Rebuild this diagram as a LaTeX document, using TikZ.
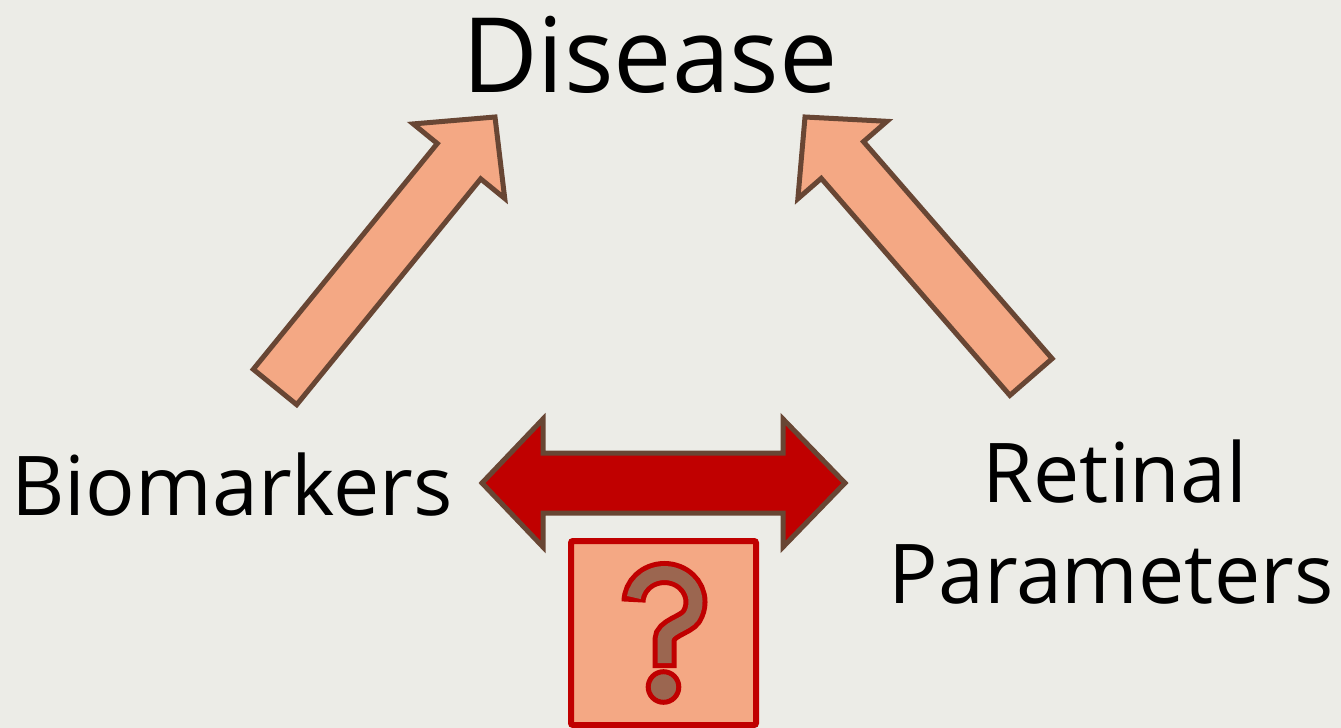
\documentclass[tikz,border=0pt]{standalone}
\usepackage{fontspec}
\setmainfont{Open Sans}
\usetikzlibrary{calc}
\definecolor{bg}{RGB}{236,236,231}
\definecolor{salmon}{RGB}{244,168,132}
\definecolor{brownline}{RGB}{104,70,52}
\definecolor{darkred}{RGB}{192,0,0}
\definecolor{qbrown}{RGB}{155,102,80}
\tikzset{
  label/.style={inner sep=0pt, anchor=base, text=black},
  bigarrow/.style={fill=salmon, draw=brownline, line width=5pt, line join=miter},
  redarrow/.style={fill=darkred, draw=brownline, line width=5pt, line join=miter},
  qbox/.style={fill=salmon, draw=darkred, line width=6pt, rounded corners=2pt}
}
\newcommand{\blkarrow}[2]{%
  \path ($(#2)!57pt!(#1)$) coordinate (hb);
  \filldraw[bigarrow] ($(#1)!28pt!90:(#2)$) -- ($(hb)!28pt!90:(#2)$) -- ($(hb)!59pt!90:(#2)$) -- (#2)
    -- ($(hb)!59pt!-90:(#2)$) -- ($(hb)!28pt!-90:(#2)$) -- ($(#1)!28pt!-90:(#2)$) -- cycle;
}
\begin{document}
\begin{tikzpicture}[x=1pt,y=-1pt]
\fill[bg] (0,0) rectangle (1341,728);
\useasboundingbox (0,0) rectangle (1341,728);

\node[label, font=\fontsize{104}{120}\selectfont] (disease) at (650,92) {Disease};
\node[label, font=\fontsize{82.5}{100}\selectfont] (bio) at (232,515) {Biomarkers};
\node[label, font=\fontsize{82.5}{100}\selectfont] (ret) at (1115,502) {Retinal};
\node[label, font=\fontsize{82.5}{100}\selectfont] (par) at (1111,603) {Parameters};

\coordinate (lt) at (275,387);
\coordinate (lh) at (495,117);
\coordinate (rt) at (1031,377);
\coordinate (rh) at (805,117);
\blkarrow{lt}{lh}
\blkarrow{rt}{rh}

\filldraw[redarrow] (482,483) -- (543,419) -- (543,453) -- (783,453) -- (783,419) -- (845,483)
  -- (783,547) -- (783,513) -- (543,513) -- (543,547) -- cycle;

\filldraw[qbox] (571,541) rectangle (756,725);
\draw[darkred, line width=24pt] (633.5,602) arc[start angle=180, end angle=390, x radius=31, y radius=29]
  .. controls (686,625) and (664.5,628) .. (664.5,640) -- (664.5,668);
\draw[qbrown, line width=14pt] (633.9,597.5) arc[start angle=189, end angle=390, x radius=31, y radius=29]
  .. controls (686,625) and (664.5,628) .. (664.5,640) -- (664.5,663);
\filldraw[fill=qbrown, draw=darkred, line width=5pt] (663.5,687) circle[radius=15.3];
\end{tikzpicture}
\end{document}
